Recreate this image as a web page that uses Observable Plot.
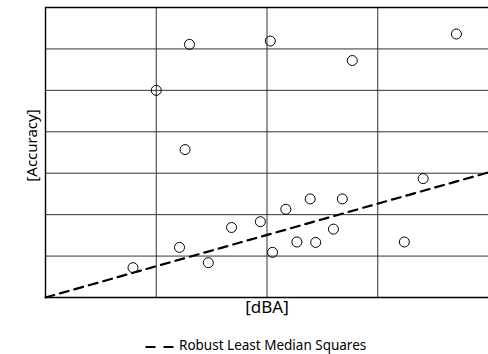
<!DOCTYPE html>
<html>
<head>
<meta charset="utf-8">
<script src="https://cdn.jsdelivr.net/npm/d3@7"></script>
<script src="https://cdn.jsdelivr.net/npm/@observablehq/plot@0.6"></script>
<style>
  html, body { margin: 0; padding: 0; background: #fff; }
  #chart { width: 488px; }
  #legend { position: relative; height: 29px; width: 488px; font-family: "Noto Sans", sans-serif; font-size: 13.5px; color: #000; }
  #legend svg { position: absolute; left: 145px; top: 19px; }
  #legend span { position: absolute; left: 179px; top: 12px; line-height: 16px; white-space: nowrap; }
</style>
</head>
<body>
<div id="chart"></div>
<div id="legend"><svg width="30" height="6"><line x1="0.5" y1="3" x2="28.5" y2="3" stroke="#000" stroke-width="2.2" stroke-dasharray="10,8"/></svg><span>Robust Least Median Squares</span></div>
<script>
const xValues = [1.30, 1.00, 1.26, 2.03, 2.77, 3.71, 0.79, 1.21, 1.47, 1.68, 3.41, 1.94, 2.17, 2.39, 2.68, 2.05, 2.27, 2.44, 2.60, 3.24];
const yValues = [6.11, 5.00, 3.57, 6.19, 5.72, 6.36, 0.72, 1.21, 0.84, 1.69, 2.87, 1.83, 2.13, 2.38, 2.38, 1.09, 1.34, 1.33, 1.65, 1.34];
// Robust least median squares fit endpoints
const fitX = [0, 4];
const fitY = [0, 3.02];
// Grid positions
const xGrid = [0, 1, 2, 3];
const yGrid = [1, 2, 3, 4, 5, 6, 7];
const xLabel = "[dBA]";
const yLabel = "[Accuracy]";
const legendLabel = "Robust Least Median Squares";

const points = xValues.map((x, i) => ({x, y: yValues[i]}));
const fit = fitX.map((x, i) => ({x, y: fitY[i]}));

const chart = Plot.plot({
  width: 488,
  height: 325,
  marginLeft: 45,
  marginRight: 0,
  marginTop: 7,
  marginBottom: 28,
  style: {fontFamily: "Noto Sans, sans-serif", background: "#fff"},
  x: {domain: [0, 4], axis: null},
  y: {domain: [0, 7], axis: null},
  marks: [
    Plot.ruleX(xGrid.slice(1), {stroke: "#333", strokeWidth: 1}),
    Plot.ruleY(yGrid.slice(0, -1), {stroke: "#333", strokeWidth: 1}),
    Plot.ruleX([0], {stroke: "#000", strokeWidth: 1.4}),
    Plot.ruleY([0, 7], {stroke: "#000", strokeWidth: 1.4}),
    Plot.line(fit, {x: "x", y: "y", stroke: "#000", strokeWidth: 2.2, strokeDasharray: "9,6"}),
    Plot.dot(points, {x: "x", y: "y", r: 5, stroke: "#000", strokeWidth: 1, fill: "none"}),
    Plot.text([xLabel], {frameAnchor: "bottom", dy: 15, fontSize: 17, fill: "#000", style: "letter-spacing:0.6px"}),
    Plot.text([yLabel], {frameAnchor: "left", textAnchor: "middle", rotate: -90, dx: -13, dy: -7, fontSize: 15, fill: "#000"})
  ]
});
document.getElementById("chart").appendChild(chart);
document.querySelector("#legend span").textContent = legendLabel;
</script>
</body>
</html>
